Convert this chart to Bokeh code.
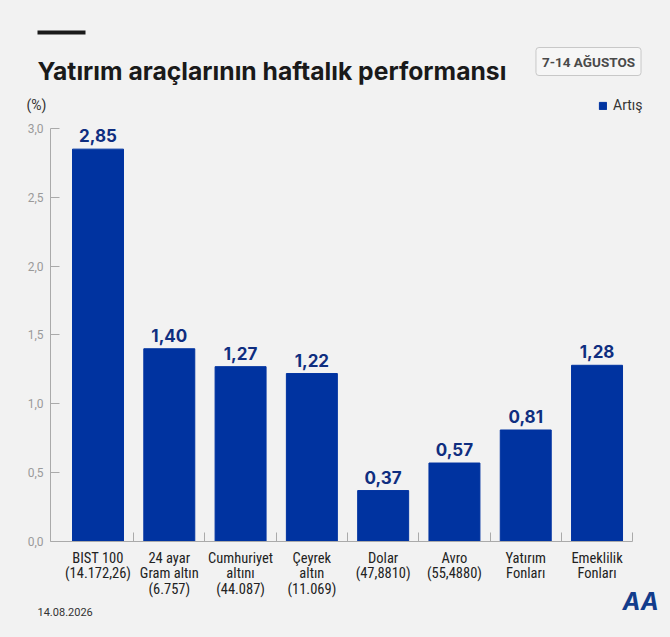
from bokeh.plotting import figure
from bokeh.models import (ColumnDataSource, LabelSet, Label, BoxAnnotation, FixedTicker,
                          CustomJSTickFormatter, Range1d)
from bokeh.core.properties import value
from bokeh.embed import file_html
from bokeh.resources import INLINE

# ---- data ----
categories = ["BIST 100\n(14.172,26)", "24 ayar\nGram altın\n(6.757)", "Cumhuriyet\naltını\n(44.087)",
              "Çeyrek\naltın\n(11.069)", "Dolar\n(47,8810)", "Avro\n(55,4880)",
              "Yatırım\nFonları", "Emeklilik\nFonları"]
values = [2.85, 1.40, 1.27, 1.22, 0.37, 0.57, 0.81, 1.28]
value_labels = ["2,85", "1,40", "1,27", "1,22", "0,37", "0,57", "0,81", "1,28"]
y_ticks = [0.0, 0.5, 1.0, 1.5, 2.0, 2.5, 3.0]
title_text = "Yatırım araçlarının haftalık performansı"
date_text = "7-14 AĞUSTOS"
unit_text = "(%)"
series_name = "Artış"
footer_text = "14.08.2026"

BG = "#f2f2f2"
BAR = "#0033a0"
VAL = "#0f2e80"
W, H = 670, 637

idx = list(range(len(categories)))
src = ColumnDataSource(dict(x=idx, v=values, lab=value_labels))

# frame covers the whole canvas; axes are pinned inside it
X_PX = 71.29
Y_PX = 137.67
x0, y0 = 97.5, 541.0          # screen position of data (0, 0)
x_start = -x0 / X_PX
x_end = x_start + W / X_PX
y_start = -(H - y0) / Y_PX
y_end = y_start + H / Y_PX
x_left = -0.665

p = figure(width=W, height=H, output_backend="svg", toolbar_location=None,
           x_range=Range1d(x_start, x_end), y_range=Range1d(y_start, y_end),
           min_border=0)
p.background_fill_color = BG
p.border_fill_color = BG
p.outline_line_color = None
p.grid.visible = False

p.vbar(x="x", top="v", width=0.715, source=src, color=BAR, legend_label=series_name)

p.add_layout(LabelSet(x="x", y="v", text="lab", source=src, text_align="center",
                      text_baseline="alphabetic", y_offset=7, text_font=value("Inter"),
                      text_font_style="bold", text_font_size="17px", text_color=VAL))

# y axis
ya = p.yaxis[0]
ya.fixed_location = x_left
ya.bounds = (0, 3.0)
ya.ticker = FixedTicker(ticks=y_ticks)
ya.formatter = CustomJSTickFormatter(code="return tick.toFixed(1).replace('.', ',')")
ya.major_tick_in = 9
ya.major_tick_out = 0
ya.minor_tick_in = 0
ya.minor_tick_out = 0
ya.axis_line_color = "#aaaaaa"
ya.major_tick_line_color = "#aaaaaa"
ya.major_label_text_color = "#9a9a9a"
ya.major_label_text_font = "Roboto"
ya.major_label_text_font_size = "12px"
ya.major_label_standoff = 7

# x axis
xa = p.xaxis[0]
xa.fixed_location = 0
xa.bounds = (x_left, len(categories) - 0.5)
xa.ticker = FixedTicker(ticks=idx, minor_ticks=[i + 0.5 for i in idx])
xa.major_label_overrides = {i: c for i, c in zip(idx, categories)}
xa.major_tick_in = 0
xa.major_tick_out = 0
xa.minor_tick_in = 9
xa.minor_tick_out = 0
xa.axis_line_color = "#aaaaaa"
xa.minor_tick_line_color = "#aaaaaa"
xa.major_label_text_color = "#222222"
xa.major_label_text_font = "'Roboto Condensed', 'Liberation Sans Narrow', Roboto"
xa.major_label_text_font_size = "14.5px"
xa.major_label_text_line_height = 0.92
xa.major_label_standoff = 8

# legend
lg = p.legend[0]
lg.location = (598, 524)
lg.padding = 0
lg.margin = 0
lg.spacing = 0
lg.glyph_width = 9
lg.glyph_height = 9
lg.label_standoff = 6
lg.label_height = 9
lg.label_text_font = "Roboto"
lg.label_text_font_size = "14px"
lg.label_text_color = "#333333"
lg.border_line_alpha = 0
lg.background_fill_alpha = 0

# header / footer (screen units, origin bottom-left of canvas)
p.add_layout(BoxAnnotation(left=37, right=85, bottom=H - 34, top=H - 30,
                           left_units="screen", right_units="screen",
                           bottom_units="screen", top_units="screen",
                           fill_color="#1a1a1a", fill_alpha=1, line_alpha=0))
p.add_layout(Label(x=37, y=H - 70, x_units="screen", y_units="screen", text=title_text,
                   text_font="Inter", text_font_style="bold", text_font_size="24.7px",
                   text_color="#1a1a1a", text_baseline="alphabetic"))
p.add_layout(Label(x=588, y=H - 61, x_units="screen", y_units="screen", text=date_text,
                   text_font="Roboto", text_font_style="bold", text_font_size="13.5px",
                   text_color="#4a4a4a", text_align="center", text_baseline="middle",
                   padding=6, border_radius=3, border_line_color="#c8c8c8",
                   background_fill_color="#f6f6f6"))
p.add_layout(Label(x=26, y=H - 104, x_units="screen", y_units="screen", text=unit_text,
                   text_font="Roboto", text_font_size="14px", text_color="#333333",
                   text_baseline="middle"))
p.add_layout(Label(x=37, y=H - 611, x_units="screen", y_units="screen", text=footer_text,
                   text_font="Roboto", text_font_size="11px", text_color="#333333",
                   text_baseline="middle"))
p.add_layout(Label(x=640, y=H - 601, x_units="screen", y_units="screen", text="AA",
                   text_font="Inter", text_font_style="bold italic", text_font_size="24px",
                   text_color="#123c8c", text_align="center", text_baseline="middle"))

html = file_html(p, INLINE, title=title_text)
html = html.replace("<head>", "<head><style>body{background:#f2f2f2;}</style>", 1)
open("out.html", "w").write(html)
